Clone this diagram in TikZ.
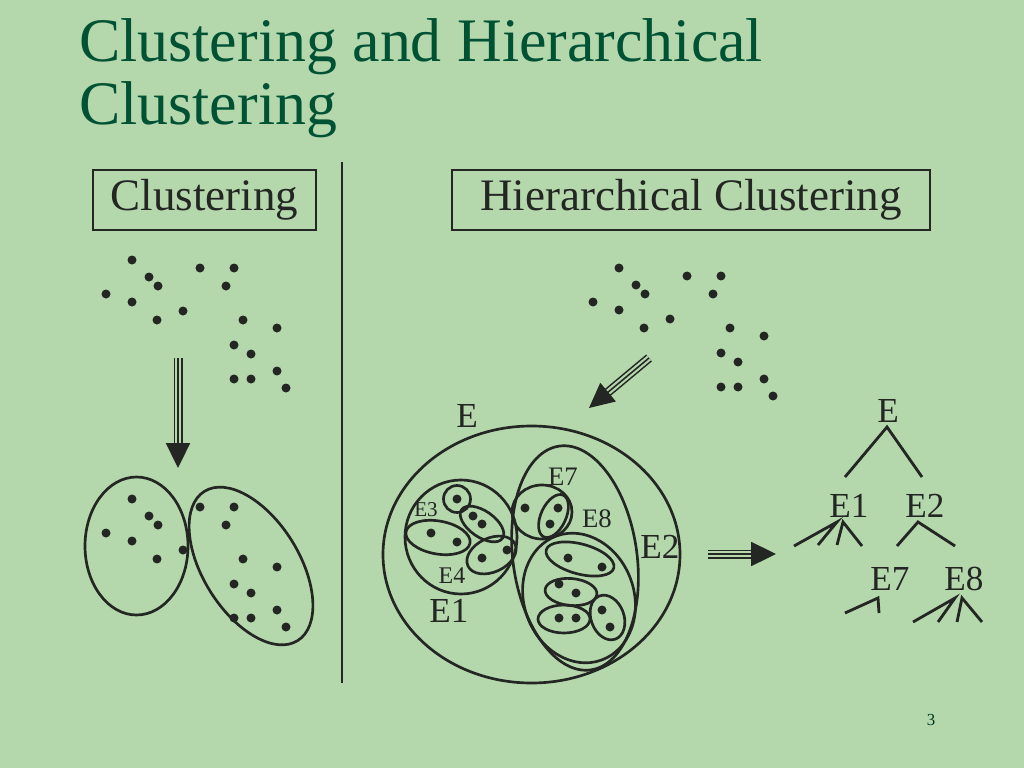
\documentclass[tikz,border=0pt]{standalone}
\usepackage{fontspec}
\setmainfont{Liberation Serif}
\usetikzlibrary{arrows.meta,calc}

\definecolor{slidebg}{RGB}{180,215,172}
\definecolor{titlegreen}{RGB}{0,82,52}
\definecolor{ink}{RGB}{35,38,35}

\tikzset{
  clus/.style={draw=ink, line width=1.9pt},
  branch/.style={draw=ink, line width=2pt},
  lbl/.style={text=ink, inner sep=0pt, anchor=base},
  heading/.style={draw=ink, line width=1.6pt, text=ink, minimum height=1.5cm,
    font=\fontsize{32}{36}\selectfont},
  shaft/.style={draw=ink, line width=1.1pt, double=slidebg, double distance=4.2pt},
}
\newcommand{\dotcloud}{%
  \foreach \p in {(132,-260),(149,-277),(158,-286),(200,-268),(234,-268),(226,-286),
                  (106,-294),(132,-302),(183,-311),(157,-320),(243,-320),(277,-328),
                  (234,-345),(251,-354),(277,-371),(234,-379),(251,-379),(286,-388)}
    \fill[ink] \p circle (3.2pt);}
\newcommand{\tripleArrow}[2]{%
  \draw[shaft] (#1) -- ($(#2)!0.55cm!(#1)$);
  \draw[ink, line width=1.1pt, -{Triangle[length=0.62cm,width=0.6cm]}] (#1) -- (#2);}

\begin{document}
\begin{tikzpicture}[x=0.025cm, y=0.025cm]
\useasboundingbox (0,0) rectangle (1024,-768);
\fill[slidebg] (0,0) rectangle (1024,-768);

% title
\node[anchor=base west, inner sep=0pt, text=titlegreen, font=\fontsize{44}{50}\selectfont]
  (title1) at (79,-62) {Clustering and Hierarchical};
\node[anchor=base west, inner sep=0pt, text=titlegreen, font=\fontsize{44}{50}\selectfont]
  (title2) at (79,-125) {Clustering};

% headings
\node[heading, minimum width=5.575cm] (hdclus) at (204.5,-200) {Clustering};
\node[heading, minimum width=11.95cm] (hdhier) at (691,-200) {Hierarchical Clustering};
\draw[ink, line width=1.6pt] (342,-162) -- (342,-683);

% flat clustering
\dotcloud
\begin{scope}[shift={(0,-239)}]
  \dotcloud
\end{scope}
\coordinate (la1) at (178,-358);
\coordinate (la2) at (178,-468);
\tripleArrow{la1}{la2}
\draw[clus] (136.5,-546) ellipse [x radius=51.5, y radius=69];
\draw[clus, rotate around={-58:(251,-566)}] (251,-566) ellipse [x radius=88, y radius=48];

% hierarchical clustering
\begin{scope}[shift={(487,-8)}]
  \dotcloud
\end{scope}
\coordinate (ma1) at (649,-358);
\coordinate (ma2) at (589,-408);
\tripleArrow{ma1}{ma2}

\foreach \p in {(457,-499),(473,-516),(482,-524),(431,-533),(457,-542),(482,-558),(507,-550),
                (525,-508),(558,-508),(550,-524),(568,-558),(602,-567),(559,-584),(576,-593),
                (559,-618),(576,-618),(602,-610),(610,-627)}
  \fill[ink] \p circle (3.2pt);

\draw[clus] (531.5,-554.5) ellipse [x radius=148.5, y radius=128.5];
\draw[clus] (461,-537) ellipse [x radius=56, y radius=57];
\draw[clus] (457,-499) circle [radius=13.5];
\draw[clus, rotate around={-35:(482,-524)}] (482,-524) ellipse [x radius=25, y radius=13];
\draw[clus, rotate around={-10:(438,-537.5)}] (438,-537.5) ellipse [x radius=32.5, y radius=16.5];
\draw[clus, rotate around={25:(491.5,-555)}] (491.5,-555) ellipse [x radius=26, y radius=17];
\draw[clus, rotate around={8:(575,-558)}] (575,-558) ellipse [x radius=62, y radius=113];
\draw[clus] (542,-512) ellipse [x radius=30, y radius=27];
\draw[clus, rotate around={65:(553.5,-516)}] (553.5,-516) ellipse [x radius=23, y radius=12.5];
\draw[clus, rotate around={20:(579,-598)}] (579,-598) ellipse [x radius=55, y radius=66];
\draw[clus, rotate around={-15:(580,-559)}] (580,-559) ellipse [x radius=35, y radius=15];
\draw[clus, rotate around={-5:(571,-592)}] (571,-592) ellipse [x radius=26, y radius=13.5];
\draw[clus] (564,-619) ellipse [x radius=26, y radius=14];
\draw[clus, rotate around={20:(607.5,-617.5)}] (607.5,-617.5) ellipse [x radius=16.5, y radius=23];

\node[lbl, font=\fontsize{25}{28}\selectfont] (lE) at (467,-427) {E};
\node[lbl, font=\fontsize{25}{28}\selectfont] (lE1) at (449,-622) {E1};
\node[lbl, font=\fontsize{25}{28}\selectfont] (lE2) at (660,-558) {E2};
\node[lbl, font=\fontsize{15}{18}\selectfont] (lE3) at (426,-516) {E3};
\node[lbl, font=\fontsize{17}{20}\selectfont] (lE4) at (452,-583) {E4};
\node[lbl, font=\fontsize{19}{22}\selectfont] (lE7) at (563,-485) {E7};
\node[lbl, font=\fontsize{19}{22}\selectfont] (lE8) at (597,-527) {E8};

\coordinate (ra1) at (708,-554);
\coordinate (ra2) at (776,-554);
\tripleArrow{ra1}{ra2}

% tree
\node[lbl, font=\fontsize{25}{28}\selectfont] (tE) at (888,-422) {E};
\node[lbl, font=\fontsize{25}{28}\selectfont] (tE1) at (849,-517) {E1};
\node[lbl, font=\fontsize{25}{28}\selectfont] (tE2) at (925,-517) {E2};
\node[lbl, font=\fontsize{25}{28}\selectfont] (tE7) at (890,-590) {E7};
\node[lbl, font=\fontsize{25}{28}\selectfont] (tE8) at (964,-590) {E8};
\draw[branch] (845,-477) -- (887,-427) -- (922,-477);
\draw[branch] (794,-546) -- (837,-522) -- (818,-545);
\draw[branch] (837,-545) -- (843,-522) -- (862,-546);
\draw[branch] (897,-546) -- (918,-522) -- (955,-546);
\draw[branch] (845,-613) -- (878,-598) -- (879,-613);
\draw[branch] (913,-622) -- (955,-598) -- (938,-622);
\draw[branch] (957,-622) -- (962,-598) -- (982,-622);

\node[anchor=base, inner sep=0pt, text=titlegreen!70!black, font=\fontsize{12}{14}\selectfont]
  (pageno) at (931,-725) {3};
\end{tikzpicture}
\end{document}
